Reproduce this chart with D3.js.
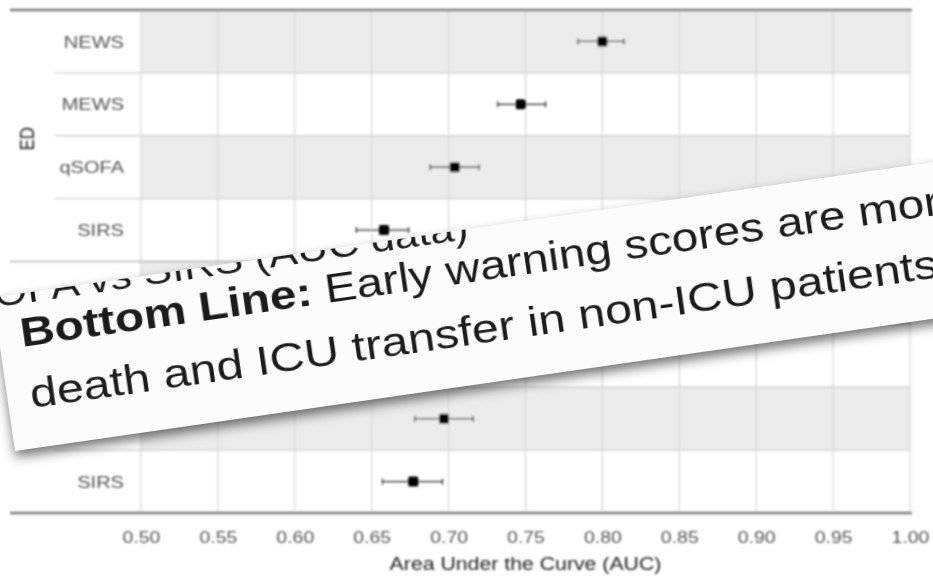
<!DOCTYPE html>
<html>
<head>
<meta charset="utf-8">
<script src="https://cdn.jsdelivr.net/npm/d3@7"></script>
<style>
  html, body { margin: 0; padding: 0; background: #fff; }
  svg { display: block; }
</style>
</head>
<body>
<script>
// Forest plot of discrimination (AUC with 95% CI) by setting and score
const settings = ["ED", "ED", "ED", "ED", "Ward", "Ward", "Ward", "Ward"];
const scores   = ["NEWS", "MEWS", "qSOFA", "SIRS", "NEWS", "MEWS", "qSOFA", "SIRS"];
const auc      = [0.800, 0.747, 0.704, 0.658, 0.770, 0.730, 0.697, 0.677];
const lower    = [0.784, 0.732, 0.688, 0.640, 0.755, 0.715, 0.678, 0.657];
const upper    = [0.814, 0.763, 0.720, 0.674, 0.785, 0.745, 0.716, 0.696];
const groups   = ["ED", "Ward"];
const xTicks   = [0.50, 0.55, 0.60, 0.65, 0.70, 0.75, 0.80, 0.85, 0.90, 0.95, 1.00];
const xTitle   = "Area Under the Curve (AUC)";

// Summary card laid over the plot
const cardHeading = "qSOFA vs SIRS (AUC data)";
const cardLead    = "Bottom Line:";
const cardLine1   = " Early warning scores are more accurate than qSOFA and SIRS for predicting";
const cardLine2   = "death and ICU transfer in non-ICU patients.";

const W = 933, H = 578;
const FONT = "'Liberation Sans', Arial, Helvetica, sans-serif";
const STRETCH = 1.18;

const svg = d3.select("body").append("svg")
  .attr("width", W).attr("height", H)
  .style("font-family", FONT);

const defs = svg.append("defs");
defs.append("filter").attr("id", "soft")
  .attr("x", "-5%").attr("y", "-5%").attr("width", "110%").attr("height", "110%")
  .append("feGaussianBlur").attr("stdDeviation", 0.8);
defs.append("filter").attr("id", "softText")
  .append("feGaussianBlur").attr("stdDeviation", 0.45);
const sh = defs.append("filter").attr("id", "cardShadow")
  .attr("x", "-10%").attr("y", "-30%").attr("width", "120%").attr("height", "170%");
sh.append("feDropShadow")
  .attr("dx", 0).attr("dy", 6).attr("stdDeviation", 6)
  .attr("flood-color", "#000").attr("flood-opacity", 0.55);

// ---------- plot ----------
const plotLeft = 141, plotRight = 910, plotTop = 10, plotBottom = 513;
const x = d3.scaleLinear().domain([0.5, 1.0]).range([plotLeft, plotRight]);
const rows = d3.range(scores.length);
const y = d3.scaleBand().domain(rows).range([plotTop, plotBottom]).padding(0);

const chart = svg.append("g").attr("filter", "url(#soft)");

// alternating row shading (first row of each setting shaded)
const posInGroup = rows.map(i => i - settings.indexOf(settings[i]));
chart.append("g").selectAll("rect")
  .data(rows.filter(i => posInGroup[i] % 2 === 0))
  .join("rect")
  .attr("x", plotLeft).attr("width", plotRight - plotLeft)
  .attr("y", i => y(i)).attr("height", y.bandwidth())
  .attr("fill", "#ebebeb");

// vertical grid
chart.append("g").selectAll("line")
  .data(xTicks)
  .join("line")
  .attr("x1", d => x(d)).attr("x2", d => x(d))
  .attr("y1", plotTop).attr("y2", plotBottom)
  .attr("stroke", "#d6d6d6").attr("stroke-width", 1.2);

// row separators inside a setting
chart.append("g").selectAll("line")
  .data(rows.filter(i => posInGroup[i] > 0))
  .join("line")
  .attr("x1", 55).attr("x2", plotRight)
  .attr("y1", i => y(i)).attr("y2", i => y(i))
  .attr("stroke", "#cfcfcf").attr("stroke-width", 1.3);

// separators between settings
chart.append("g").selectAll("line")
  .data(groups.slice(1).map(g => settings.indexOf(g)))
  .join("line")
  .attr("x1", 10).attr("x2", plotRight)
  .attr("y1", i => y(i)).attr("y2", i => y(i))
  .attr("stroke", "#b5b5b5").attr("stroke-width", 1.5);

// top and bottom rules
chart.append("g").selectAll("line")
  .data([plotTop, plotBottom])
  .join("line")
  .attr("x1", 10).attr("x2", plotRight + 2)
  .attr("y1", d => d).attr("y2", d => d)
  .attr("stroke", "#7a7a7a").attr("stroke-width", 2.6);

// score labels
chart.append("g").selectAll("text")
  .data(rows)
  .join("text")
  .attr("transform", i => `translate(124,${y(i) + y.bandwidth() / 2}) scale(${STRETCH},1)`)
  .attr("text-anchor", "end").attr("dy", "0.36em")
  .attr("font-size", 17).attr("fill", "#555")
  .text(i => scores[i]);

// setting labels (rotated)
chart.append("g").selectAll("text")
  .data(groups)
  .join("text")
  .attr("transform", g => {
    const idx = rows.filter(i => settings[i] === g);
    const c = (y(idx[0]) + y(idx[idx.length - 1]) + y.bandwidth()) / 2;
    return `translate(27,${c + 3}) rotate(-90) scale(1,${STRETCH})`;
  })
  .attr("text-anchor", "middle").attr("dy", "0.36em")
  .attr("font-size", 17).attr("fill", "#1a1a1a")
  .text(g => g);

// confidence intervals
const ci = chart.append("g").attr("stroke", "#2a2a2a").attr("stroke-width", 1.2);
ci.selectAll("line.ci")
  .data(rows).join("line").attr("class", "ci")
  .attr("x1", i => x(lower[i])).attr("x2", i => x(upper[i]))
  .attr("y1", i => y(i) + y.bandwidth() / 2).attr("y2", i => y(i) + y.bandwidth() / 2);
const capH = 3;
ci.selectAll("line.lo")
  .data(rows).join("line").attr("class", "lo")
  .attr("x1", i => x(lower[i])).attr("x2", i => x(lower[i]))
  .attr("y1", i => y(i) + y.bandwidth() / 2 - capH).attr("y2", i => y(i) + y.bandwidth() / 2 + capH);
ci.selectAll("line.hi")
  .data(rows).join("line").attr("class", "hi")
  .attr("x1", i => x(upper[i])).attr("x2", i => x(upper[i]))
  .attr("y1", i => y(i) + y.bandwidth() / 2 - capH).attr("y2", i => y(i) + y.bandwidth() / 2 + capH);

// point estimates
const sq = 10;
chart.append("g").selectAll("rect")
  .data(rows).join("rect")
  .attr("x", i => x(auc[i]) - sq / 2).attr("y", i => y(i) + y.bandwidth() / 2 - sq / 2)
  .attr("width", sq).attr("height", sq).attr("rx", 1.5)
  .attr("fill", "#000");

// x axis
const axis = chart.append("g")
  .attr("transform", `translate(0,${plotBottom})`)
  .call(d3.axisBottom(x).tickValues(xTicks).tickFormat(d3.format(".2f")).tickSize(0).tickPadding(18));
axis.select(".domain").remove();
axis.selectAll(".tick text")
  .attr("font-family", FONT).attr("font-size", 16.5).attr("fill", "#555")
  .attr("transform", `scale(${STRETCH},1)`);

chart.append("text")
  .attr("transform", `translate(${(plotLeft + plotRight) / 2},570) scale(${STRETCH - 0.03},1)`)
  .attr("text-anchor", "middle")
  .attr("font-size", 18.5).attr("fill", "#222")
  .text(xTitle);

// ---------- summary card ----------
const cardW = 1150, cardH = 155, cardAngle = -8.2;
const card = svg.append("g").attr("transform", `translate(15,451) rotate(${cardAngle})`);

defs.append("clipPath").attr("id", "cardClip")
  .append("rect").attr("x", 0).attr("y", -cardH).attr("width", cardW).attr("height", cardH);

card.append("rect")
  .attr("x", 0).attr("y", -cardH).attr("width", cardW).attr("height", cardH)
  .attr("fill", "#fcfcfc").attr("filter", "url(#cardShadow)");

const cardText = card.append("g").attr("clip-path", "url(#cardClip)")
  .append("g").attr("filter", "url(#softText)").attr("fill", "#1c1c1c");

const CS = 1.165, CF = 41;
// heading line, mostly hidden past the card's top edge
cardText.append("text")
  .attr("transform", `translate(480,-145) scale(${CS},1)`)
  .attr("text-anchor", "end").attr("font-size", 37)
  .text(cardHeading);

const l1 = cardText.append("text")
  .attr("transform", `translate(22,-102) scale(${CS},1)`)
  .attr("font-size", CF);
l1.append("tspan").attr("font-weight", "bold").text(cardLead);
l1.append("tspan").text(cardLine1);

cardText.append("text")
  .attr("transform", `translate(23,-40) scale(${CS + 0.015},1)`)
  .attr("font-size", CF)
  .text(cardLine2);
</script>
</body>
</html>
